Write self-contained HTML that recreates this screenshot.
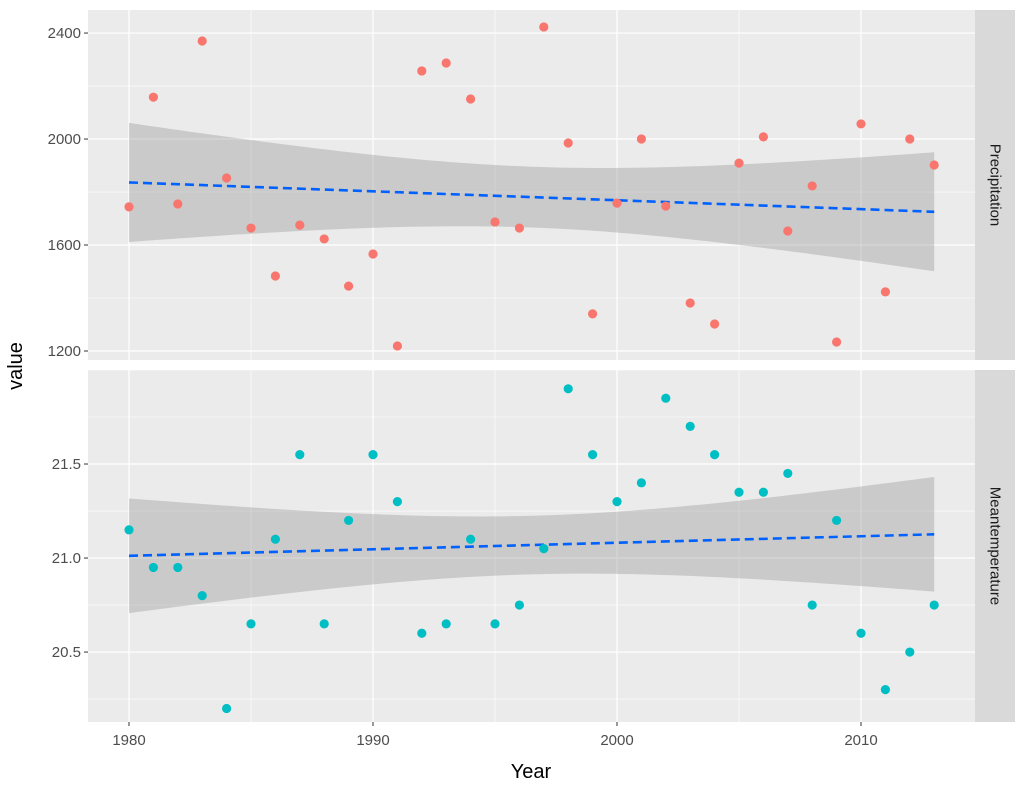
<!DOCTYPE html>
<html><head><meta charset="utf-8"><style>
body{margin:0;background:#fff;font-family:"Liberation Sans",sans-serif}
</style></head><body>
<svg id="chart" width="1024" height="791" xmlns="http://www.w3.org/2000/svg"></svg>
<script>
const years=[1980,1981,1982,1983,1984,1985,1986,1987,1988,1989,1990,1991,1992,1993,1994,1995,1996,1997,1998,1999,2000,2001,2002,2003,2004,2005,2006,2007,2008,2009,2010,2011,2012,2013];
const precipitation=[1744,2158,1755,2370,1853,1664,1483,1675,1623,1445,1566,1219,2257,2287,2151,1687,1664,2423,1985,1340,1758,2000,1747,1381,1302,1909,2008,1653,1823,1234,2057,1423,2000,1902];
const meanTemperature=[21.15,20.95,20.95,20.8,20.2,20.65,21.1,21.55,20.65,21.2,21.55,21.3,20.6,20.65,21.1,20.65,20.75,21.05,21.9,21.55,21.3,21.4,21.85,21.7,21.55,21.35,21.35,21.45,20.75,21.2,20.6,20.3,20.5,20.75];
const xTicks=[1980,1990,2000,2010];
const precipTicks=[1200,1600,2000,2400];
const tempTicks=["20.5","21.0","21.5"];

const NS="http://www.w3.org/2000/svg";
const svg=document.getElementById('chart');
function el(tag,attrs,parent){const e=document.createElementNS(NS,tag);for(const k in attrs)e.setAttribute(k,attrs[k]);(parent||svg).appendChild(e);return e;}
const PX0=88,PX1=975;
const xs=v=>129+(v-1980)*(861-129)/30;

function panel(top,bottom,yMin,yMax,major,minor,vals,color,label,name){
  const ys=v=>bottom-(v-yMin)/(yMax-yMin)*(bottom-top);
  const g=el('g',{});
  
  
  el('rect',{x:PX0,y:top,width:PX1-PX0,height:bottom-top,fill:'#EBEBEB'},g);
  minor.forEach(v=>el('line',{x1:PX0,x2:PX1,y1:ys(v),y2:ys(v),stroke:'#fff','stroke-width':0.6},g));
  [1985,1995,2005].forEach(v=>el('line',{x1:xs(v),x2:xs(v),y1:top,y2:bottom,stroke:'#fff','stroke-width':0.6},g));
  major.forEach(v=>el('line',{x1:PX0,x2:PX1,y1:ys(+v),y2:ys(+v),stroke:'#fff','stroke-width':1.2},g));
  xTicks.forEach(v=>el('line',{x1:xs(v),x2:xs(v),y1:top,y2:bottom,stroke:'#fff','stroke-width':1.2},g));
  const n=years.length;const mx=years.reduce((a,b)=>a+b)/n;const my=vals.reduce((a,b)=>a+b)/n;
  let sxx=0,sxy=0;years.forEach((x,i)=>{sxx+=(x-mx)**2;sxy+=(x-mx)*(vals[i]-my);});
  const b=sxy/sxx,a=my-b*mx;let sse=0;years.forEach((x,i)=>{sse+=(vals[i]-a-b*x)**2;});
  const s=Math.sqrt(sse/(n-2)),t=2.037;
  const x0=years[0],x1=years[n-1];const up=[],lo=[];
  for(let k=0;k<=80;k++){const x=x0+(x1-x0)*k/80;const f=a+b*x;const se=s*Math.sqrt(1/n+(x-mx)**2/sxx);
    up.push(xs(x)+','+ys(f+t*se));lo.unshift(xs(x)+','+ys(f-t*se));}
  const band=el('polygon',{points:up.concat(lo).join(' '),fill:'#999',opacity:0.4},g);
  
  
  const ln=el('line',{x1:xs(x0),y1:ys(a+b*x0),x2:xs(x1),y2:ys(a+b*x1),stroke:'#0061FF','stroke-width':2.6,'stroke-dasharray':'9,5'},g);
  
  
  vals.forEach((v,i)=>{const c=el('circle',{cx:xs(years[i]),cy:ys(v),r:4.6,fill:color},g);
    
    });
  major.forEach(v=>{el('line',{x1:PX0-4,x2:PX0,y1:ys(+v),y2:ys(+v),stroke:'#333','stroke-width':1},g);
    const tx=el('text',{x:PX0-7,y:ys(+v)+5,'text-anchor':'end','font-size':15,fill:'#4D4D4D'},g);tx.textContent=v;
    
    });
  el('rect',{x:PX1,y:top,width:40,height:bottom-top,fill:'#D9D9D9'},g);
  const cy=(top+bottom)/2;
  const st=el('text',{x:PX1+20,y:cy,'text-anchor':'middle','font-size':15,fill:'#1A1A1A',transform:`rotate(90 ${PX1+20} ${cy})`,'dominant-baseline':'central'},g);
  st.textContent=label;
  
  
}
panel(10,360,1166,2487,precipTicks,[1400,1800,2200],precipitation,'#F8766D','Precipitation','precipitation');
panel(370,722,20.128,22.0,tempTicks,[20.25,20.75,21.25,21.75,22.0],meanTemperature,'#00BFC4','Meantemperature','temperature');
xTicks.forEach(v=>{el('line',{x1:xs(v),x2:xs(v),y1:722,y2:726,stroke:'#333'});
  const t=el('text',{x:xs(v),y:745,'text-anchor':'middle','font-size':15,fill:'#4D4D4D'});t.textContent=v;
  
  });
const xt=el('text',{x:531,y:778,'text-anchor':'middle','font-size':20,fill:'#000'});xt.textContent='Year';


const yt=el('text',{x:22,y:366,'text-anchor':'middle','font-size':20,fill:'#000',transform:'rotate(-90 22 366)'});yt.textContent='value';


</script>
</body></html>
